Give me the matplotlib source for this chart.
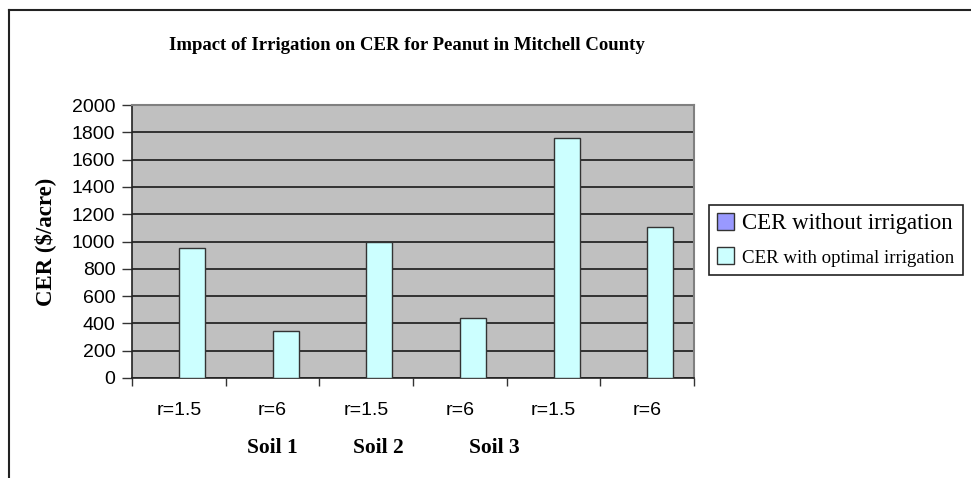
import numpy as np
import matplotlib
matplotlib.use("Agg")
import matplotlib.pyplot as plt
from matplotlib.lines import Line2D

# data
categories = ["r=1.5", "r=6", "r=1.5", "r=6", "r=1.5", "r=6"]
soil_labels = ["Soil 1", "Soil 2", "Soil 3"]
cer_without = [0, 0, 0, 0, 0, 0]
cer_optimal = [952, 344, 1000, 437, 1760, 1108]
yticks = list(range(0, 2001, 200))

serif = "Liberation Serif"
sans = "Liberation Sans"

fig = plt.figure(figsize=(9.71, 4.78), dpi=100)
W, H = 971, 478

# axes placed in pixel terms
left, right, top, bottom = 132, 694, 105, 378
ax = fig.add_axes([left / W, 1 - bottom / H, (right - left) / W, (bottom - top) / H])
ax.set_facecolor("#C0C0C0")

x = np.arange(len(categories))
bw = 0.28
ax.bar(x - bw / 2, cer_without, bw, color="#9999FF", edgecolor="#333333", linewidth=1, zorder=3,
       label="CER without irrigation")
ax.bar(x + bw / 2, cer_optimal, bw, color="#CCFFFF", edgecolor="#333333", linewidth=1, zorder=3,
       label="CER with optimal irrigation")

ax.set_xlim(-0.5, len(categories) - 0.5)
ax.set_ylim(0, 2000)
ax.set_yticks(yticks)
ax.yaxis.grid(True, color="#1a1a1a", linewidth=1.2, zorder=1)
ax.set_axisbelow(True)

ax.set_xticks(x)
ax.set_xticklabels(categories, fontfamily=sans, fontsize=14)
ax.set_xticks(np.arange(-0.5, len(categories)), minor=True)
ax.tick_params(axis="x", which="major", length=0, pad=17)
ax.tick_params(axis="x", which="minor", length=6, width=1, color="#333333")
ax.tick_params(axis="y", length=7, width=1, pad=5, color="#333333")
for lab in ax.get_yticklabels():
    lab.set_fontfamily(sans)
    lab.set_fontsize(14)

for s in ["left", "bottom"]:
    ax.spines[s].set_color("#222222")
    ax.spines[s].set_linewidth(1.2)
for s in ["top", "right"]:
    ax.spines[s].set_color("#808080")
    ax.spines[s].set_linewidth(1.5)

ax.set_ylabel("CER ($/acre)", fontfamily=serif, fontweight="bold", fontsize=16.5, labelpad=0)
ax.yaxis.set_label_coords(-(left - 56) / (right - left), 0.5)

fig.text(407 / W, 1 - 46 / H, "Impact of Irrigation on CER for Peanut in Mitchell County",
         ha="center", va="center", fontfamily=serif, fontweight="bold", fontsize=13.5)

for lbl, px in zip(soil_labels, [272, 378, 494]):
    fig.text(px / W, 1 - 448 / H, lbl, ha="center", va="center",
             fontfamily=serif, fontweight="bold", fontsize=15.5)

leg = fig.legend(loc="upper left", bbox_to_anchor=(709 / W, 1 - 205 / H),
                 bbox_transform=fig.transFigure, prop={"family": serif, "size": 16.5},
                 frameon=True, fancybox=False, edgecolor="#222222", framealpha=1,
                 handlelength=0.75, handleheight=0.75, handletextpad=0.35,
                 borderpad=0.35, borderaxespad=0, labelspacing=0.55)
leg.get_frame().set_linewidth(1.2)
leg.get_texts()[1].set_fontsize(13.6)

# outer chart border
fig.add_artist(Line2D([9 / W, 9 / W], [0, 1 - 10 / H], color="#222222", linewidth=1.5))
fig.add_artist(Line2D([9 / W, 1], [1 - 10 / H, 1 - 10 / H], color="#222222", linewidth=1.5))

fig.savefig("out.png", dpi=100)
